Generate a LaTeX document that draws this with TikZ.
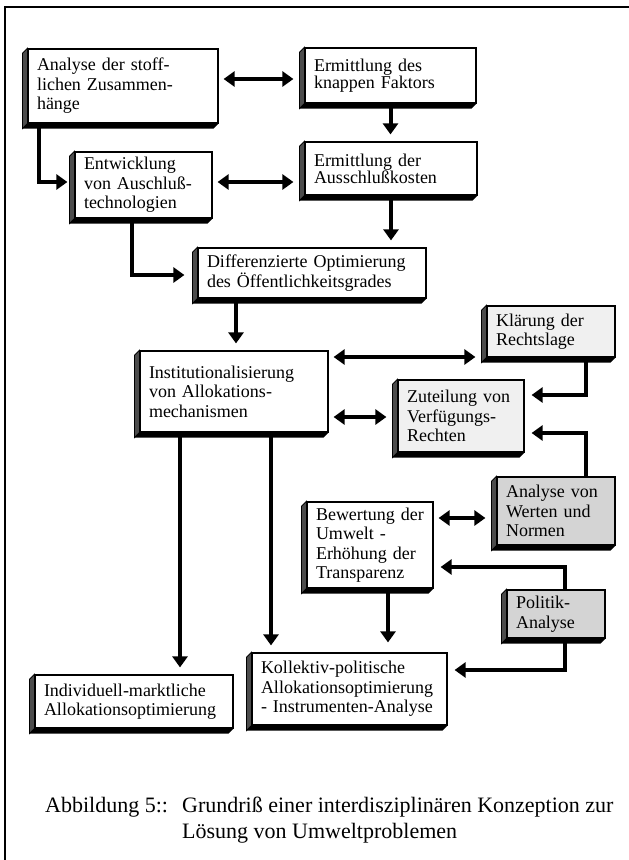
\documentclass[tikz,border=0pt]{standalone}
\usepackage{fontspec}
\setmainfont{Liberation Serif}
\usetikzlibrary{arrows.meta}

\begin{document}
\begin{tikzpicture}[x=1pt,y=-1pt,>={Triangle[length=11pt,width=15pt]},
 box/.style={draw,line width=1.2pt,rectangle,fill=white,align=left,inner xsep=9pt,inner ysep=0pt,
  font=\fontsize{18}{19.5}\selectfont},
 light/.style={fill=black!6},
 grey/.style={fill=black!17},
 flow/.style={line width=4pt,->,shorten >=7pt},
 dflow/.style={line width=4pt,<->,shorten <=5pt,shorten >=11pt}]
 \useasboundingbox (0,0) rectangle (629,860);
 % frame
 \draw[line width=1.2pt] (5,860) -- (5,7) -- (629,7);

 % boxes
 \node[box,text width=172pt,minimum height=74pt] (ana) at (123,86) {Analyse der stoff-\\lichen Zusammen-\\hänge};
 \node[box,text width=153pt,minimum height=55pt,font=\fontsize{18}{17}\selectfont] (knapp) at (390.5,75.5) {Ermittlung des\\knappen Faktors};
 \node[box,text width=119pt,minimum height=66pt] (entw) at (143.5,185) {Entwicklung\\von Auschluß-\\technologien};
 \node[box,text width=154pt,minimum height=53pt,font=\fontsize{18}{17}\selectfont] (ausk) at (391,168.5) {Ermittlung der\\Ausschlußkosten};
 \node[box,text width=210pt,minimum height=50pt] (diff) at (312,273) {Differenzierte Optimierung\\des Öffentlichkeitsgrades};
 \node[box,text width=170pt,minimum height=81pt] (inst) at (234,391.5) {Institutionalisierung\\von Allokations-\\mechanismen};
 \node[box,light,text width=110pt,minimum height=51pt] (klaer) at (551,331.5) {Klärung der\\Rechtslage};
 \node[box,light,text width=108pt,minimum height=72pt] (zut) at (461,416) {Zuteilung von\\Verfügungs-\\Rechten};
 \node[box,grey,text width=100pt,minimum height=68pt] (norm) at (556,511) {Analyse von\\Werten und\\Normen};
 \node[box,text width=108pt,minimum height=86pt] (bew) at (370,545) {Bewertung der\\Umwelt -\\Erhöhung der\\Transparenz};
 \node[box,grey,text width=80pt,minimum height=48pt] (pol) at (556,614) {Politik-\\Analyse};
 \node[box,text width=180pt,minimum height=53pt] (indiv) at (134,701.5) {Individuell-marktliche\\Allokationsoptimierung};
 \node[box,text width=177pt,minimum height=72pt] (koll) at (349.5,689) {Kollektiv-politische\\Allokationsoptimierung\\- Instrumenten-Analyse};

 % 3d edges
 \foreach \n in {ana,knapp,entw,ausk,diff,inst,klaer,zut,norm,bew,pol,indiv,koll}{
  \filldraw[fill=black!70,line width=0.8pt] (\n.north west) -- ++(-5,5) -- ([xshift=-5pt,yshift=-5pt]\n.south west) -- (\n.south west) -- cycle;
  \fill (\n.south west) -- ([xshift=-5pt,yshift=-5pt]\n.south west) -- ([xshift=-5pt,yshift=-5pt]\n.south east) -- (\n.south east) -- cycle;
 }

 % connections
 \draw[dflow] ([yshift=7pt]ana.east) -- ([yshift=-3.5pt]knapp.west);
 \draw[dflow] ([yshift=3pt]entw.east) -- ([yshift=-13.5pt]ausk.west);
 \draw[dflow] ([yshift=34.5pt]inst.east) -- ([yshift=-25.5pt]klaer.west);
 \draw[dflow] ([yshift=-25.5pt]inst.east) -- ([yshift=-1pt]zut.west);
 \draw[dflow] ([yshift=27pt]bew.east) -- ([yshift=-7pt]norm.west);
 \draw[flow] (knapp.south) -- ([xshift=-0.5pt]ausk.north);
 \draw[flow] (ausk.south) -- ([xshift=79pt]diff.north);
 \draw[flow] ([xshift=12pt]ana.south west) |- ([yshift=3pt]entw.west);
 \draw[flow,shorten >=13pt] ([xshift=58pt]entw.south west) |- ([yshift=-2pt]diff.west);
 \draw[flow] ([xshift=-76pt]diff.south) -- ([xshift=2pt]inst.north);
 \draw[flow] ([xshift=35pt]klaer.south) |- ([yshift=21pt]zut.east);
 \draw[flow] ([xshift=30pt]norm.north) |- ([yshift=-17pt]zut.east);
 \draw[flow] ([xshift=9pt]pol.north) |- ([yshift=-22pt]bew.east);
 \draw[flow] ([xshift=9pt]pol.south) |- ([yshift=19pt]koll.east);
 \draw[flow,shorten >=10pt] ([xshift=18pt]bew.south) -- ([xshift=38.5pt]koll.north);
 \draw[flow] ([xshift=-54pt]inst.south) -- ([xshift=46pt]indiv.north);
 \draw[flow] ([xshift=37pt]inst.south) -- ([xshift=-78.5pt]koll.north);

 % caption
 \node[anchor=base west,inner sep=0pt,font=\fontsize{22}{26}\selectfont] (abb) at (45,812) {Abbildung 5::};
 \node[anchor=base west,inner sep=0pt,font=\fontsize{22}{26}\selectfont] (titel) at (182,812) {Grundriß einer interdisziplinären Konzeption zur};
 \node[anchor=base west,inner sep=0pt,font=\fontsize{22}{26}\selectfont] (titelb) at (182,838) {Lösung von Umweltproblemen};
\end{tikzpicture}
\end{document}
